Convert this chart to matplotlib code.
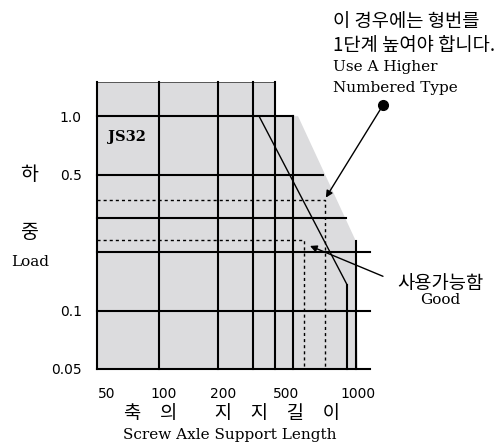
"""
Load vs. screw axle support length selection chart (JS32).
"""

import matplotlib
matplotlib.use("Agg")
import matplotlib.pyplot as plt

# ---- data -------------------------------------------------------------
load_levels = [1.0, 0.5, 0.3, 0.2, 0.1, 0.05]
load_line_ends = [479, 679, 889, 1178, 1178, 1178]

length_lines = [48.4, 100, 200, 300, 388, 479, 900, 1000]
length_line_tops = [1.5, 1.5, 1.5, 1.5, 1.5, 1.0, 0.136, 0.228]

limit_x = [322, 900, 900]
limit_y = [1.0, 0.136, 0.05]

shade_x = [48.4, 388, 388, 508, 988, 1023, 48.4]
shade_y = [1.5, 1.5, 1.0, 1.0, 0.233, 0.05, 0.05]

case_high = (696, 0.37)   # needs a higher numbered type
case_good = (545, 0.23)   # usable

ytick_vals = [1.0, 0.5, 0.1, 0.05]
ytick_labels = ["1.0", "0.5", "0.1", "0.05"]
xtick_vals = [54, 106, 211, 441, 1023]
xtick_labels = ["50", "100", "200", "500", "1000"]

XMIN, XMAX = 48.4, 1178
YMIN, YMAX = 0.05, 1.5

KR = ["Noto Sans CJK KR", "DejaVu Sans"]
SERIF = "DejaVu Serif"
GREY = "#dcdcde"

# ---- figure -----------------------------------------------------------
W, H = 500, 444
fig = plt.figure(figsize=(W / 100, H / 100), dpi=100)
ax = fig.add_axes([97 / W, (H - 369) / H, (370 - 97) / W, (369 - 82) / H])
ax.set_xscale("log")
ax.set_yscale("log")
ax.set_xlim(XMIN, XMAX)
ax.set_ylim(YMIN, YMAX)
for s in ax.spines.values():
    s.set_visible(False)
ax.minorticks_off()

ax.fill(shade_x, shade_y, color=GREY, lw=0, zorder=0)
ax.plot([XMIN, 388], [YMAX, YMAX], color="#555555", lw=0.7, zorder=1, clip_on=False)

for y, xe in zip(load_levels, load_line_ends):
    ax.plot([XMIN, xe], [y, y], color="black", lw=1.5, zorder=2, clip_on=False)
for x, yt in zip(length_lines, length_line_tops):
    ax.plot([x, x], [YMIN, yt], color="black", lw=1.5, zorder=2, clip_on=False)

ax.plot(limit_x, limit_y, color="black", lw=1.0, zorder=3)

for (cx, cy) in (case_high, case_good):
    ax.plot([XMIN, cx, cx], [cy, cy, YMIN], color="black", lw=1.0,
            ls=(0, (2.2, 2.2)), zorder=3)

ax.set_yticks(ytick_vals)
ax.set_yticklabels(ytick_labels, fontsize=10, family="DejaVu Sans")
ax.set_xticks(xtick_vals)
ax.set_xticklabels(xtick_labels, fontsize=10, family="DejaVu Sans")
ax.tick_params(axis="both", length=0)
ax.tick_params(axis="y", pad=11)
ax.tick_params(axis="x", pad=13)

ax.text(55, 0.78, "JS32", fontsize=10.5, fontweight="bold", family=SERIF,
        va="center", ha="left")

# annotations
ax.plot([1371], [1.14], "o", color="black", ms=7, clip_on=False, zorder=5)
ax.annotate("", xy=(case_high[0] * 1.01, case_high[1] * 1.03), xytext=(1371, 1.14),
            arrowprops=dict(arrowstyle="-|>", color="black", lw=1.0,
                            mutation_scale=10, shrinkA=0, shrinkB=0),
            annotation_clip=False)
ax.annotate("", xy=(584, 0.215), xytext=(1371, 0.15),
            arrowprops=dict(arrowstyle="-|>", color="black", lw=1.0,
                            mutation_scale=10, shrinkA=0, shrinkB=0),
            annotation_clip=False)

def ftext(x, y, s, **kw):
    fig.text(x / W, 1 - y / H, s, **kw)

ftext(333, 22, "이 경우에는 형번를", fontsize=13.5, family=KR, fontweight="medium",
      va="center", ha="left")
ftext(333, 45, "1단계 높여야 합니다.", fontsize=13.5, family=KR, fontweight="medium",
      va="center", ha="left")
ftext(333, 67, "Use A Higher", fontsize=11, family=SERIF, va="center", ha="left")
ftext(333, 88, "Numbered Type", fontsize=11, family=SERIF, va="center", ha="left")

ftext(440, 283, "사용가능함", fontsize=13.5, family=KR, fontweight="medium",
      va="center", ha="center")
ftext(440, 300, "Good", fontsize=11, family=SERIF, va="center", ha="center")

ftext(29, 174, "하", fontsize=14, family=KR, fontweight="medium", va="center", ha="center")
ftext(29, 232, "중", fontsize=14, family=KR, fontweight="medium", va="center", ha="center")
ftext(30, 262, "Load", fontsize=11, family=SERIF, va="center", ha="center")

ftext(232, 413, "축\u3000의\u3000\u3000지\u3000지\u3000길\u3000이", fontsize=13.5,
      family=KR, fontweight="medium", va="center", ha="center")
ftext(230, 435, "Screw Axle Support Length", fontsize=11, family=SERIF,
      va="center", ha="center")

fig.savefig("out.png", dpi=100)
